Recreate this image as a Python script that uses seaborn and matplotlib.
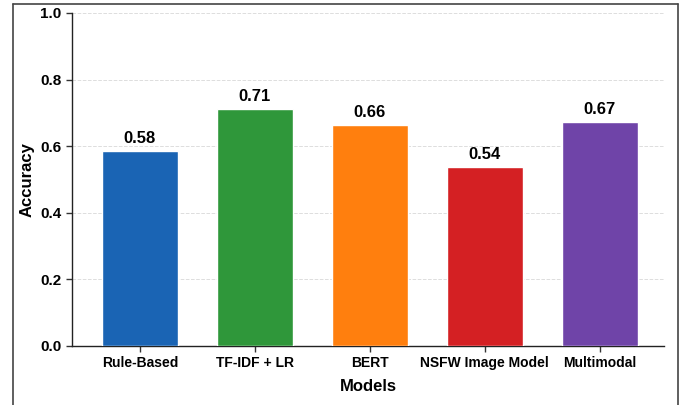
import matplotlib
matplotlib.use("Agg")
import matplotlib.pyplot as plt
import seaborn as sns
import pandas as pd
from matplotlib.lines import Line2D

models = ["Rule-Based", "TF-IDF + LR", "BERT", "NSFW Image Model", "Multimodal"]
accuracy = [0.585, 0.712, 0.662, 0.537, 0.671]
colors = ["#1a64b4", "#2f973a", "#ff7f0e", "#d42023", "#6f44a8"]
yticks = [0.0, 0.2, 0.4, 0.6, 0.8, 1.0]

sns.set_style("white")
plt.rcParams["font.family"] = ["Liberation Sans", "DejaVu Sans"]
plt.rcParams["text.color"] = "black"
plt.rcParams["axes.labelcolor"] = "black"
plt.rcParams["xtick.color"] = "black"
plt.rcParams["ytick.color"] = "black"

df = pd.DataFrame({"Models": models, "Accuracy": accuracy})

fig = plt.figure(figsize=(6.86, 4.05), dpi=100)
ax = fig.add_axes([0.105, 0.146, 0.863, 0.822])
sns.barplot(data=df, x="Models", y="Accuracy", hue="Models", palette=colors,
            width=0.66, saturation=1, legend=False, ax=ax, zorder=3)

# value labels
for i, v in enumerate(accuracy):
    ax.text(i, v + 0.015, f"{v:.2f}", ha="center", va="bottom",
            fontsize=12, fontweight="bold", color="black")

ax.set_xlim(-0.59, len(models) - 1 + 0.56)
ax.set_ylim(0, 1.0)
ax.set_yticks(yticks)
ax.set_yticklabels([f"{t:.1f}" for t in yticks], fontsize=11, fontweight="bold")
ax.set_xticks(range(len(models)))
ax.set_xticklabels(models, fontsize=10, fontweight="bold")
ax.set_xlabel("Models", fontsize=12, fontweight="bold", labelpad=6)
ax.set_ylabel("Accuracy", fontsize=12, fontweight="bold", labelpad=4)
ax.grid(axis="y", linestyle="--", color="#dddddd", linewidth=0.7, zorder=0)
ax.tick_params(axis="both", direction="out", length=4, width=1, color="#333333", bottom=True, left=True)
ax.spines["top"].set_visible(False)
ax.spines["right"].set_visible(False)
for s in ["left", "bottom"]:
    ax.spines[s].set_color("#222222")
    ax.spines[s].set_linewidth(1.0)

# frame around figure (cropped at bottom)
for xs, ys in [([0.019, 0.019], [0, 0.99]), ([0.019, 0.988], [0.99, 0.99]), ([0.988, 0.988], [0, 0.99])]:
    fig.add_artist(Line2D(xs, ys, color="#444444", linewidth=1.2, transform=fig.transFigure))

fig.savefig("out.png", dpi=100)
